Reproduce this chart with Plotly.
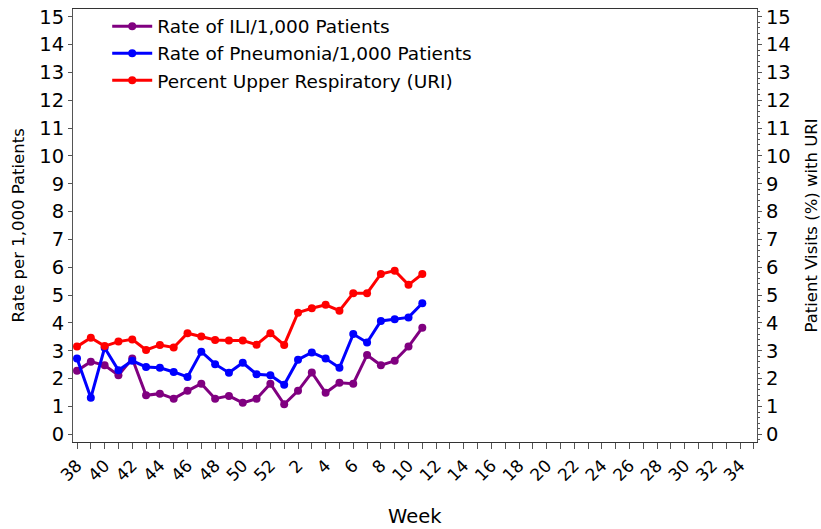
import plotly.graph_objects as go

# Week categories (season weeks 38..52, then 1..35)
weeks = [str(w) for w in list(range(38, 53)) + list(range(1, 36))]
tick_labels = [w if int(w) % 2 == 0 else "" for w in weeks]

ili_rate = [2.28, 2.61, 2.48, 2.12, 2.72, 1.40, 1.46, 1.28, 1.56, 1.82,
            1.28, 1.38, 1.13, 1.28, 1.82, 1.08, 1.56, 2.22, 1.49, 1.85,
            1.82, 2.85, 2.48, 2.64, 3.15, 3.83]
pneumonia_rate = [2.72, 1.31, 3.11, 2.30, 2.64, 2.42, 2.39, 2.24, 2.06, 2.97,
                  2.52, 2.21, 2.57, 2.16, 2.12, 1.78, 2.68, 2.94, 2.72, 2.39,
                  3.60, 3.30, 4.07, 4.13, 4.20, 4.71]
uri_percent = [3.15, 3.47, 3.17, 3.33, 3.41, 3.03, 3.21, 3.12, 3.63, 3.51,
               3.39, 3.37, 3.37, 3.22, 3.63, 3.21, 4.37, 4.53, 4.65, 4.44,
               5.07, 5.07, 5.76, 5.88, 5.37, 5.76]

n = len(ili_rate)
font_family = "DejaVu Sans, Verdana, sans-serif"

fig = go.Figure()
fig.add_trace(go.Scatter(x=weeks[:n], y=ili_rate, name="Rate of ILI/1,000 Patients",
                         mode="lines+markers", line=dict(color="#800080", width=3),
                         marker=dict(size=8, color="#800080")))
fig.add_trace(go.Scatter(x=weeks[:n], y=pneumonia_rate, name="Rate of Pneumonia/1,000 Patients",
                         mode="lines+markers", line=dict(color="#0000FF", width=3),
                         marker=dict(size=8, color="#0000FF")))
fig.add_trace(go.Scatter(x=weeks[:n], y=uri_percent, name="Percent Upper Respiratory (URI)",
                         mode="lines+markers", line=dict(color="#FF0000", width=3),
                         marker=dict(size=8, color="#FF0000"), yaxis="y2"))

yrange = [-0.277, 15.28]
fig.update_layout(
    width=821, height=529,
    margin=dict(l=73, r=64, t=9, b=87, autoexpand=False),
    paper_bgcolor="white", plot_bgcolor="white",
    font=dict(family=font_family, color="black"),
    showlegend=True,
    legend=dict(x=0.05, y=1.003, xanchor="left", yanchor="top",
                font=dict(size=18.5, family=font_family), bgcolor="rgba(0,0,0,0)",
                itemwidth=40),
    xaxis=dict(type="category", categoryorder="array", categoryarray=weeks,
               tickmode="array", tickvals=weeks, ticktext=tick_labels,
               range=[-0.29, 49.23], tickangle=-45, automargin=False,
               tickfont=dict(size=17), ticks="outside", ticklen=6, tickcolor="#555",
               showline=True, linecolor="#333", linewidth=1, mirror=True,
               showgrid=False, zeroline=False),
    yaxis=dict(range=yrange, dtick=1, tick0=0, tickfont=dict(size=19.5),
               ticks="outside", ticklen=4, tickcolor="#555", automargin=False,
               showline=True, linecolor="#555", linewidth=1,
               showgrid=False, zeroline=False),
    yaxis2=dict(range=yrange, dtick=1, tick0=0, tickfont=dict(size=19.5),
                overlaying="y", side="right", automargin=False,
                ticks="outside", ticklen=4, tickcolor="#555",
                minor=dict(dtick=0.2, ticks="outside", ticklen=2, tickcolor="#555"),
                showline=True, linecolor="#555", linewidth=1,
                showgrid=False, zeroline=False),
    annotations=[
        dict(text="Rate per 1,000 Patients", xref="paper", yref="paper",
             x=(18 - 73) / 684, y=0.5, textangle=-90, showarrow=False,
             font=dict(size=16.5), xanchor="center", yanchor="middle"),
        dict(text="Patient Visits (%) with URI", xref="paper", yref="paper",
             x=(811 - 73) / 684, y=0.5, textangle=-90, showarrow=False,
             font=dict(size=16.5), xanchor="center", yanchor="middle"),
        dict(text="Week", xref="paper", yref="paper",
             x=0.5, y=-(516 - 442) / 433, showarrow=False,
             font=dict(size=19.5), xanchor="center", yanchor="middle"),
    ],
)

fig.write_html("out.html", config={"displayModeBar": False},
               post_script="document.body.style.margin='0px';")
